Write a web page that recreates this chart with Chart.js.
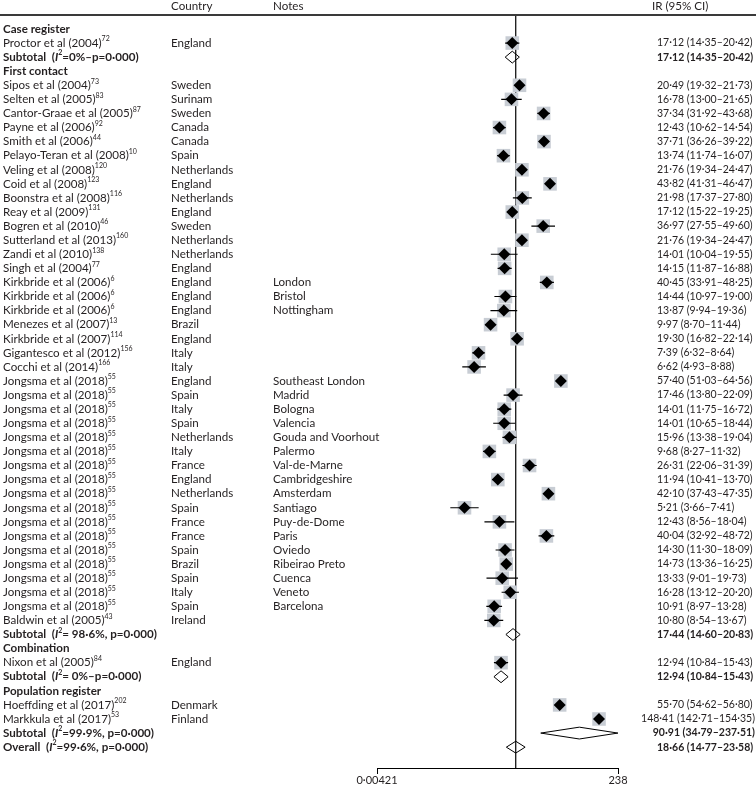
<!DOCTYPE html>
<html>
<head>
<meta charset="utf-8">
<script src="https://cdn.jsdelivr.net/npm/chart.js@4.4.1/dist/chart.umd.min.js"></script>
<style>
  html, body { margin: 0; padding: 0; background: #fff; }
  canvas { display: block; }
</style>
</head>
<body>
<canvas id="forest" width="756" height="787"></canvas>
<script>
// Rows from top to bottom: 'group' heading, 'study' estimate, 'sub' pooled estimate
const rowKinds = [
  'group', 'study', 'sub',
  'group', 'study', 'study', 'study', 'study', 'study', 'study', 'study', 'study', 'study', 'study',
  'study', 'study', 'study', 'study', 'study', 'study', 'study', 'study', 'study', 'study', 'study',
  'study', 'study', 'study', 'study', 'study', 'study', 'study', 'study', 'study', 'study', 'study',
  'study', 'study', 'study', 'study', 'study', 'study', 'study', 'sub',
  'group', 'study', 'sub',
  'group', 'study', 'study', 'sub', 'sub'
];
const rowLabels = [
  'Case register', 'Proctor et al (2004)', 'Subtotal',
  'First contact', 'Sipos et al (2004)', 'Selten et al (2005)', 'Cantor-Graae et al (2005)', 'Payne et al (2006)',
  'Smith et al (2006)', 'Pelayo-Teran et al (2008)', 'Veling et al (2008)', 'Coid et al (2008)', 'Boonstra et al (2008)',
  'Reay et al (2009)', 'Bogren et al (2010)', 'Sutterland et al (2013)', 'Zandi et al (2010)', 'Singh et al (2004)',
  'Kirkbride et al (2006)', 'Kirkbride et al (2006)', 'Kirkbride et al (2006)', 'Menezes et al (2007)',
  'Kirkbride et al (2007)', 'Gigantesco et al (2012)', 'Cocchi et al (2014)',
  'Jongsma et al (2018)', 'Jongsma et al (2018)', 'Jongsma et al (2018)', 'Jongsma et al (2018)', 'Jongsma et al (2018)',
  'Jongsma et al (2018)', 'Jongsma et al (2018)', 'Jongsma et al (2018)', 'Jongsma et al (2018)', 'Jongsma et al (2018)',
  'Jongsma et al (2018)', 'Jongsma et al (2018)', 'Jongsma et al (2018)', 'Jongsma et al (2018)', 'Jongsma et al (2018)',
  'Jongsma et al (2018)', 'Jongsma et al (2018)', 'Baldwin et al (2005)', 'Subtotal',
  'Combination', 'Nixon et al (2005)', 'Subtotal',
  'Population register', 'Hoeffding et al (2017)', 'Markkula et al (2017)', 'Subtotal', 'Overall'
];
const rowRefs = [
  '', '72', '',
  '', '73', '83', '87', '92', '44', '10', '120', '123', '116', '131', '46', '160', '138', '77',
  '6', '6', '6', '13', '114', '156', '166',
  '55', '55', '55', '55', '55', '55', '55', '55', '55', '55', '55', '55', '55', '55', '55', '55', '55', '43', '',
  '', '84', '',
  '', '202', '53', '', ''
];
const rowCountries = [
  '', 'England', '',
  '', 'Sweden', 'Surinam', 'Sweden', 'Canada', 'Canada', 'Spain', 'Netherlands', 'England', 'Netherlands',
  'England', 'Sweden', 'Netherlands', 'Netherlands', 'England', 'England', 'England', 'England', 'Brazil',
  'England', 'Italy', 'Italy',
  'England', 'Spain', 'Italy', 'Spain', 'Netherlands', 'Italy', 'France', 'England', 'Netherlands', 'Spain',
  'France', 'France', 'Spain', 'Brazil', 'Spain', 'Italy', 'Spain', 'Ireland', '',
  '', 'England', '',
  '', 'Denmark', 'Finland', '', ''
];
const rowNotes = [
  '', '', '',
  '', '', '', '', '', '', '', '', '', '', '', '', '', '', '',
  'London', 'Bristol', 'Nottingham', '', '', '', '',
  'Southeast London', 'Madrid', 'Bologna', 'Valencia', 'Gouda and Voorhout', 'Palermo', 'Val-de-Marne',
  'Cambridgeshire', 'Amsterdam', 'Santiago', 'Puy-de-Dome', 'Paris', 'Oviedo', 'Ribeirao Preto', 'Cuenca',
  'Veneto', 'Barcelona', '', '',
  '', '', '',
  '', '', '', '', ''
];
// heterogeneity text after "I²" on pooled rows
const rowHets = [
  '', '', '=0%–p=0·000)',
  '', '', '', '', '', '', '', '', '', '', '', '', '', '', '', '', '', '', '', '', '', '',
  '', '', '', '', '', '', '', '', '', '', '', '', '', '', '', '', '', '', '= 98·6%, p=0·000)',
  '', '', '= 0%–p=0·000)',
  '', '', '', '=99·9%, p=0·000)', '=99·6%, p=0·000)'
];
const irValues = [
  null, 17.12, 17.12,
  null, 20.49, 16.78, 37.34, 12.43, 37.71, 13.74, 21.76, 43.82, 21.98, 17.12, 36.97, 21.76, 14.01, 14.15,
  40.45, 14.44, 13.87, 9.97, 19.30, 7.39, 6.62,
  57.40, 17.46, 14.01, 14.01, 15.96, 9.68, 26.31, 11.94, 42.10, 5.21, 12.43, 40.04, 14.30, 14.73, 13.33,
  16.28, 10.91, 10.80, 17.44,
  null, 12.94, 12.94,
  null, 55.70, 148.41, 90.91, 18.66
];
const ciLower = [
  null, 14.35, 14.35,
  null, 19.32, 13.00, 31.92, 10.62, 36.26, 11.74, 19.34, 41.31, 17.37, 15.22, 27.55, 19.34, 10.04, 11.87,
  33.91, 10.97, 9.94, 8.70, 16.82, 6.32, 4.93,
  51.03, 13.80, 11.75, 10.65, 13.38, 8.27, 22.06, 10.41, 37.43, 3.66, 8.56, 32.92, 11.30, 13.36, 9.01,
  13.12, 8.97, 8.54, 14.60,
  null, 10.84, 10.84,
  null, 54.62, 142.71, 34.79, 14.77
];
const ciUpper = [
  null, 20.42, 20.42,
  null, 21.73, 21.65, 43.68, 14.54, 39.22, 16.07, 24.47, 46.47, 27.80, 19.25, 49.60, 24.47, 19.55, 16.88,
  48.25, 19.00, 19.36, 11.44, 22.14, 8.64, 8.88,
  64.56, 22.09, 16.72, 18.44, 19.04, 11.32, 31.39, 13.70, 47.35, 7.41, 18.04, 48.72, 18.09, 16.25, 19.73,
  20.20, 13.28, 13.67, 20.83,
  null, 15.43, 15.43,
  null, 56.80, 154.35, 237.51, 23.58
];
const overallIR = 18.66;
const xTickValues = [0.59, 238];
const xTickLabels = ['0·00421', '238'];
const headers = ['Country', 'Notes', 'IR (95% CI)'];

const FONT = 'Lato';
const TEXT = '#231f20';
const fmt = v => v.toFixed(2).replace('.', '·');

// Build mark data from the arrays
const boxPts = [], diamondPts = [], ciPts = [], poolPts = [];
const poolHalf = 0.42; // half height of pooled diamonds, in row units
rowKinds.forEach((k, i) => {
  if (k === 'study') {
    boxPts.push({ x: irValues[i], y: i });
    diamondPts.push({ x: irValues[i], y: i });
    ciPts.push({ x: ciLower[i], y: i }, { x: ciUpper[i], y: i }, { x: null, y: null });
  } else if (k === 'sub') {
    poolPts.push(
      { x: ciLower[i], y: i }, { x: irValues[i], y: i - poolHalf },
      { x: ciUpper[i], y: i }, { x: irValues[i], y: i + poolHalf },
      { x: ciLower[i], y: i }, { x: null, y: null }
    );
  }
});
const yMin = -0.92, yMax = rowKinds.length + 0.48;

// draws a run of differently styled pieces of text
function drawParts(ctx, x, y, parts) {
  parts.forEach(p => {
    ctx.font = p.font;
    ctx.fillText(p.text, x, y + (p.dy || 0));
    x += ctx.measureText(p.text).width;
  });
  return x;
}

const tablePlugin = {
  id: 'forestTable',
  beforeDatasetsDraw(chart) {
    const { ctx, chartArea } = chart;
    ctx.save();
    ctx.strokeStyle = '#3a3a3a';
    ctx.lineWidth = 2;
    ctx.beginPath();
    ctx.moveTo(0, chartArea.top - 1);
    ctx.lineTo(chart.width, chartArea.top - 1);
    ctx.stroke();
    ctx.restore();
  },
  afterDraw(chart) {
    const { ctx, chartArea } = chart;
    const yScale = chart.scales.y;
    const norm = `11.6px ${FONT}`, bold = `bold 11.6px ${FONT}`;
    const sup = `7px ${FONT}`, supBold = `bold 7px ${FONT}`;
    const num = `10.5px ${FONT}`, numBold = `bold 10.5px ${FONT}`;
    ctx.save();
    ctx.fillStyle = TEXT;
    ctx.textBaseline = 'middle';
    ctx.textAlign = 'left';

    ctx.font = norm;
    ctx.fillText(headers[0], 171, chartArea.top - 10);
    ctx.fillText(headers[1], 273, chartArea.top - 10);
    ctx.fillText(headers[2], 652, chartArea.top - 10);

    rowKinds.forEach((k, i) => {
      const y = yScale.getPixelForValue(i);
      if (k === 'group') {
        drawParts(ctx, 3, y, [{ text: rowLabels[i], font: bold }]);
        return;
      }
      if (k === 'study') {
        drawParts(ctx, 3, y, [
          { text: rowLabels[i], font: norm },
          { text: rowRefs[i], font: sup, dy: -4 }
        ]);
        ctx.font = norm;
        ctx.fillText(rowCountries[i], 171, y);
        ctx.fillText(rowNotes[i], 273, y);
      } else {
        drawParts(ctx, 3, y, [
          { text: rowLabels[i] + '  (', font: bold },
          { text: 'I', font: `italic bold 11.6px ${FONT}` },
          { text: '2', font: supBold, dy: -4 },
          { text: rowHets[i], font: bold }
        ]);
      }
      ctx.font = k === 'study' ? num : numBold;
      const s = `${fmt(irValues[i])} (${fmt(ciLower[i])}–${fmt(ciUpper[i])})`;
      const w = ctx.measureText(s).width;
      ctx.fillText(s, Math.min(657, 755 - w), y);
    });
    ctx.restore();
  }
};

new Chart(document.getElementById('forest'), {
  type: 'scatter',
  data: {
    datasets: [
      {
        // black point estimates on top
        data: diamondPts, order: 1,
        pointStyle: 'rectRot', pointRadius: 6, pointHoverRadius: 6,
        backgroundColor: '#000', borderWidth: 0
      },
      {
        type: 'line', data: poolPts, order: 2,
        showLine: true, spanGaps: false, pointRadius: 0, tension: 0,
        borderColor: '#000', borderWidth: 1, fill: false
      },
      {
        type: 'line', data: ciPts, order: 3,
        showLine: true, spanGaps: false, pointRadius: 0,
        borderColor: '#000', borderWidth: 1.2, fill: false
      },
      {
        // grey weight boxes
        data: boxPts, order: 4,
        pointStyle: 'rect', pointRadius: 9.6, pointHoverRadius: 9.6,
        backgroundColor: '#c8cdd4', borderWidth: 0
      },
      {
        type: 'line', data: [{ x: overallIR, y: yMin }, { x: overallIR, y: yMax }], order: 5,
        showLine: true, pointRadius: 0, borderColor: '#000', borderWidth: 1.2, fill: false
      }
    ]
  },
  options: {
    responsive: false,
    animation: false,
    devicePixelRatio: 1,
    layout: { padding: { left: 377, right: 138, top: 16, bottom: 0 } },
    plugins: { legend: { display: false }, tooltip: { enabled: false } },
    scales: {
      x: {
        type: 'logarithmic',
        min: xTickValues[0],
        max: xTickValues[1],
        afterBuildTicks: scale => { scale.ticks = xTickValues.map(v => ({ value: v })); },
        grid: { display: true, drawOnChartArea: false, drawTicks: true, tickLength: 6, color: '#000' },
        border: { display: true, color: '#000', width: 1 },
        ticks: {
          autoSkip: false, maxRotation: 0, padding: 1, color: TEXT,
          font: { family: FONT, size: 11, lineHeight: 1 },
          callback: (v, i) => xTickLabels[i]
        }
      },
      y: {
        type: 'linear', display: false, reverse: true, min: yMin, max: yMax
      }
    }
  },
  plugins: [tablePlugin]
});
</script>
</body>
</html>
